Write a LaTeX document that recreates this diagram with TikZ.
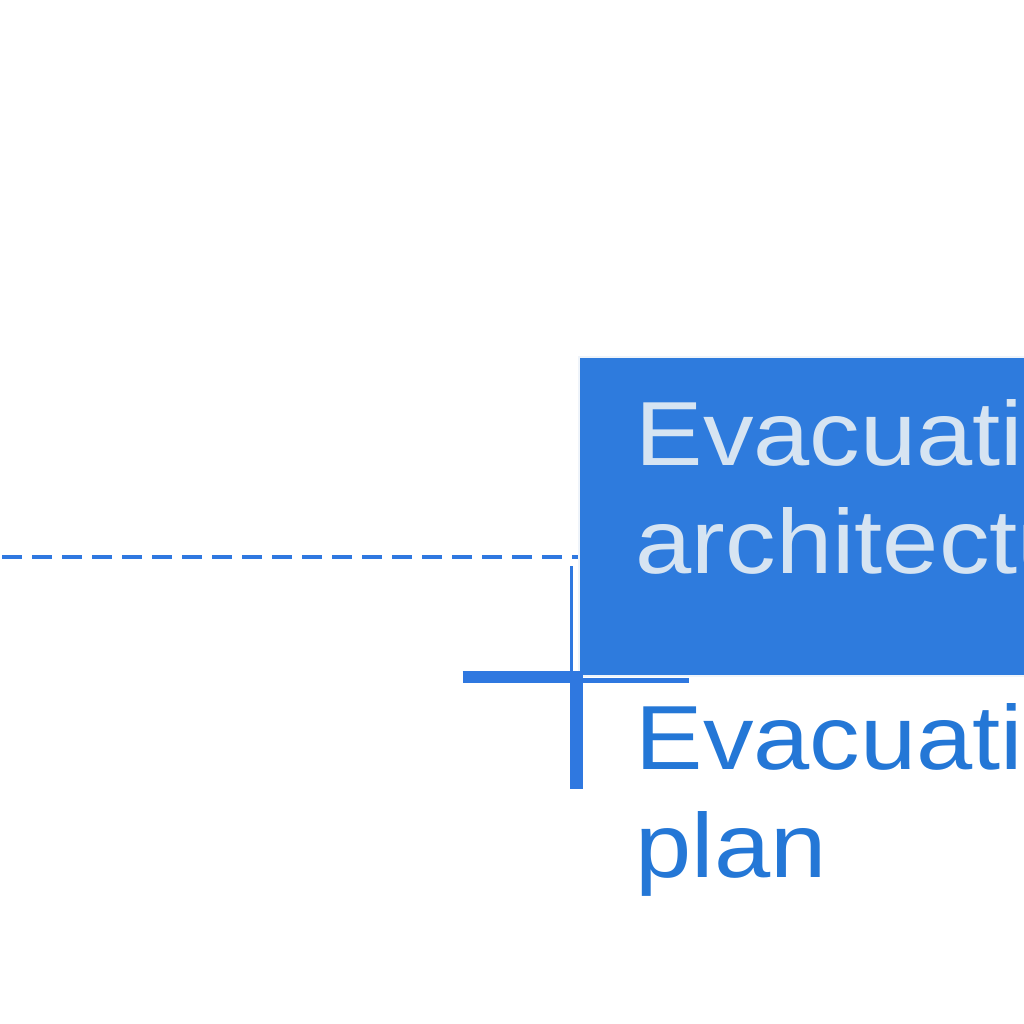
\documentclass[tikz,border=0pt]{standalone}
\usepackage{fontspec}
\setmainfont{Liberation Sans}
\newfontfamily\diagfont[FakeStretch=1.11]{Liberation Sans}
\usepackage{xcolor}
\usetikzlibrary{calc, positioning}

\definecolor{boxblue}{HTML}{2E7BDD}
\definecolor{boxtext}{HTML}{D6E4F2}
\definecolor{planblue}{HTML}{2477D6}
\definecolor{lineblue}{HTML}{2F78E0}

\begin{document}
\begin{tikzpicture}[>=stealth, x=0.01cm, y=-0.01cm,
    blockbox/.style={draw=boxtext!40, line width=0.6pt, fill=boxblue, inner sep=0pt, anchor=north west},
    bigtext/.style={inner sep=0pt, align=left, anchor=base west,
        font=\diagfont\fontsize{25.9pt}{30.5pt}\selectfont},
    cutline/.style={lineblue, line cap=butt}]

    % =================================================================
    % 1. CANVAS AND BASIC POINTS
    % =================================================================
    \def\bw{900}   % box width (runs past the edge)
    \def\bh{319}   % box height
    \useasboundingbox (0,0) rectangle (1024,1024);
    \clip (0,0) rectangle (1024,1024);

    \coordinate (dashstart) at (0,557);   % free end of dashed line
    \coordinate (cross) at (576.5,677);   % crossing of the marker
    \coordinate (edgetop) at (571,566);   % top of the thin edge stroke

    % =================================================================
    % 2. BLUE BOX AND ITS TEXT
    % =================================================================
    \node[blockbox, minimum width=\bw*0.01cm, minimum height=\bh*0.01cm] (arch) at (578,356) {};
    % base = baseline of the last line
    \node[bigtext, text=boxtext] (archtext) at (635,573) {Evacuation\\architecture};

    % text under the box
    \node[bigtext, text=planblue] (plan) at (635,877) {Evacuation\\plan};

    % =================================================================
    % 3. DASHED CONNECTOR AND MARKER
    % =================================================================
    \draw[cutline, line width=1.14pt, dash pattern=on 0.2cm off 0.1cm, dash phase=-0.02cm]
        (dashstart) -- (dashstart -| arch.west);

    % thin vertical stroke along the box edge
    \draw[cutline, line width=0.85pt] (edgetop) -- (edgetop |- cross);

    % cross: thick left arm and downward arm, thin right arm
    \draw[cutline, line width=3.4pt] ($(cross)+(-114,0)$) -- (cross);
    \draw[cutline, line width=1.42pt] ($(cross)+(-5,3.5)$) -- ($(cross)+(112,3.5)$);
    \draw[cutline, line width=3.7pt] ($(cross)+(0,-6)$) -- ($(cross)+(0,112)$);

\end{tikzpicture}
\end{document}
